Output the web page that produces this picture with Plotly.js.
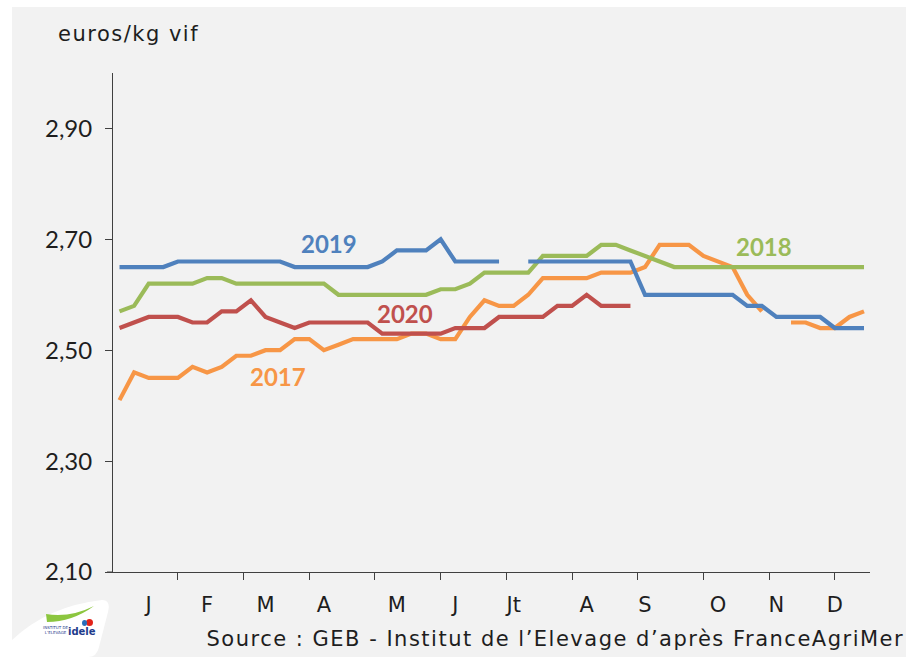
<!DOCTYPE html>
<html>
<head>
<meta charset="utf-8">
<script src="https://cdn.plot.ly/plotly-3.0.1.min.js"></script>
<style>
  html, body { margin: 0; padding: 0; background: #ffffff; width: 906px; height: 657px; overflow: hidden; }
  #chart { position: absolute; left: 12px; top: 7px; width: 894px; height: 650px; }
</style>
</head>
<body>
<div id="chart"></div>
<script>
// ---- data ----
const weeks = [1,2,3,4,5,6,7,8,9,10,11,12,13,14,15,16,17,18,19,20,21,22,23,24,25,26,
               27,28,29,30,31,32,33,34,35,36,37,38,39,40,41,42,43,44,45,46,47,48,49,50,51,52];

const y2017 = [2.41,2.46,2.45,2.45,2.45,2.47,2.46,2.47,2.49,2.49,
               2.50,2.50,2.52,2.52,2.50,2.51,2.52,2.52,2.52,2.52,
               2.53,2.53,2.52,2.52,2.56,2.59,2.58,2.58,2.60,2.63,
               2.63,2.63,2.63,2.64,2.64,2.64,2.65,2.69,2.69,2.69,
               2.67,2.66,2.65,2.60,2.57,null,2.55,2.55,2.54,2.54,2.56,2.57];

const y2018 = [2.57,2.58,2.62,2.62,2.62,2.62,2.63,2.63,2.62,2.62,
               2.62,2.62,2.62,2.62,2.62,2.60,2.60,2.60,2.60,2.60,
               2.60,2.60,2.61,2.61,2.62,2.64,2.64,2.64,2.64,2.67,
               2.67,2.67,2.67,2.69,2.69,2.68,2.67,2.66,2.65,2.65,
               2.65,2.65,2.65,2.65,2.65,2.65,2.65,2.65,2.65,2.65,2.65,2.65];

const y2019 = [2.65,2.65,2.65,2.65,2.66,2.66,2.66,2.66,2.66,2.66,
               2.66,2.66,2.65,2.65,2.65,2.65,2.65,2.65,2.66,2.68,
               2.68,2.68,2.70,2.66,2.66,2.66,2.66,null,2.66,2.66,
               2.66,2.66,2.66,2.66,2.66,2.66,2.60,2.60,2.60,2.60,
               2.60,2.60,2.60,2.58,2.58,2.56,2.56,2.56,2.56,2.54,2.54,2.54];

const y2020 = [2.54,2.55,2.56,2.56,2.56,2.55,2.55,2.57,2.57,2.59,
               2.56,2.55,2.54,2.55,2.55,2.55,2.55,2.55,2.53,2.53,
               2.53,2.53,2.53,2.54,2.54,2.54,2.56,2.56,2.56,2.56,
               2.58,2.58,2.60,2.58,2.58,2.58,null,null,null,null,
               null,null,null,null,null,null,null,null,null,null,null,null];

const seriesNames = ['2017','2018','2019','2020'];
const monthLabels = ['J','F','M','A','M','J','Jt','A','S','O','N','D'];
const monthWeeks  = [3,7,11,15,20,24,28,33,37,42,46,50];
const yTicks = [2.10,2.30,2.50,2.70,2.90];

// ---- styling ----
const colors = {'2017':'#F79646','2018':'#9BBB59','2019':'#4F81BD','2020':'#C0504D'};
const labelPos = {'2017':[11.83,2.4535],'2018':[45.15,2.687],'2019':[15.33,2.693],'2020':[20.54,2.567]};
const seriesData = {'2017':y2017,'2018':y2018,'2019':y2019,'2020':y2020};

const FONT = 'DejaVu Sans, sans-serif';
const NUMFONT = 'Lato, sans-serif';
const TXT = '#1e1e1e';

const traces = seriesNames.map(n => ({
  x: weeks, y: seriesData[n], type: 'scatter', mode: 'lines', name: n,
  line: {color: colors[n], width: 4.2}, connectgaps: false, hoverinfo: 'skip'
}));

// plot-area pixel helpers (page px -> paper coords)
const PL = 113, PR = 870, PT = 73, PB = 572;
const px = v => (v - PL) / (PR - PL);
const py = v => (PB - v) / (PB - PT);

const annotations = seriesNames.map(n => ({
  x: labelPos[n][0], y: labelPos[n][1], xref: 'x', yref: 'y', text: '<b>' + n + '</b>',
  showarrow: false, font: {family: NUMFONT, size: 24, color: colors[n]}, xanchor: 'center', yanchor: 'middle'
}));
annotations.push({x: px(128.5), y: py(34), xref: 'paper', yref: 'paper', text: 'euros/kg vif',
  showarrow: false, xanchor: 'center', yanchor: 'middle', font: {family: FONT, size: 21, color: TXT}});
annotations.push({x: px(555), y: py(639), xref: 'paper', yref: 'paper',
  text: 'Source : GEB - Institut de l\u2019Elevage d\u2019apr\u00e8s FranceAgriMer',
  showarrow: false, xanchor: 'center', yanchor: 'middle', font: {family: FONT, size: 21, color: TXT}});
// logo text
annotations.push({x: px(82), y: py(631), xref: 'paper', yref: 'paper', text: '<b>idele</b>',
  showarrow: false, xanchor: 'center', yanchor: 'middle', font: {family: FONT, size: 10, color: '#1f3c8c'}});
annotations.push({x: px(56), y: py(630), xref: 'paper', yref: 'paper', text: 'INSTITUT DE<br>L\u2019ELEVAGE',
  showarrow: false, xanchor: 'center', yanchor: 'middle', font: {family: FONT, size: 4, color: '#1f3c8c'}});

const shapes = [
  {type: 'line', xref: 'paper', yref: 'paper', x0: px(107), x1: px(113), y0: 0, y1: 0,
   line: {color: '#404040', width: 1}},
  {type: 'path', xref: 'paper', yref: 'paper', fillcolor: '#ffffff', line: {width: 0},
   path: 'M ' + px(12) + ',' + py(640) +
         ' Q ' + px(48) + ',' + py(606) + ' ' + px(102) + ',' + py(600) +
         ' Q ' + px(111) + ',' + py(600) + ' ' + px(108) + ',' + py(612) +
         ' L ' + px(99) + ',' + py(647) +
         ' Q ' + px(97) + ',' + py(657) + ' ' + px(88) + ',' + py(657) +
         ' L ' + px(12) + ',' + py(657) + ' Z'},
  {type: 'path', xref: 'paper', yref: 'paper', fillcolor: '#8cc63f', line: {width: 0},
   path: 'M ' + px(46) + ',' + py(614) + ' Q ' + px(70) + ',' + py(618) + ' ' + px(94) + ',' + py(606) +
         ' Q ' + px(72) + ',' + py(622) + ' ' + px(47) + ',' + py(622) + ' Z'},
  {type: 'circle', xref: 'paper', yref: 'paper', x0: px(86), x1: px(93), y0: py(626), y1: py(619),
   fillcolor: '#e2231a', line: {width: 0}},
  {type: 'circle', xref: 'paper', yref: 'paper', x0: px(82), x1: px(87), y0: py(626), y1: py(620),
   fillcolor: '#2a6ebb', line: {width: 0}}
];

const layout = {
  width: 894, height: 650,
  margin: {l: PL - 12, r: 906 - PR, t: PT - 7, b: 657 - PB, pad: 0},
  paper_bgcolor: '#f2f2f2', plot_bgcolor: '#f2f2f2',
  showlegend: false,
  separators: ', ',
  xaxis: {
    range: [0.554, 52.41], showgrid: false, zeroline: false,
    showline: true, linecolor: '#404040', linewidth: 1,
    tickmode: 'array', tickvals: monthWeeks, ticktext: monthLabels, ticks: '',
    ticklabelstandoff: 14,
    tickfont: {family: FONT, size: 21, color: TXT},
    minor: {tickmode: 'linear', tick0: 0.5, dtick: 4.5, ticks: 'outside', ticklen: 7, tickcolor: '#404040', tickwidth: 1, showgrid: false},
    fixedrange: true
  },
  yaxis: {
    range: [2.10, 3.00], showgrid: false, zeroline: false,
    showline: true, linecolor: '#404040', linewidth: 1,
    tickmode: 'array', tickvals: yTicks, tickformat: '.2f',
    ticks: 'outside', ticklen: 7, tickcolor: '#404040', tickwidth: 1,
    ticklabelstandoff: 8,
    tickfont: {family: NUMFONT, size: 24, color: TXT},
    fixedrange: true
  },
  annotations: annotations,
  shapes: shapes
};

Plotly.newPlot('chart', traces, layout, {displayModeBar: false, staticPlot: true}).then(gd => {
  gd.querySelectorAll('.annotation-text').forEach(t => {
    const s = t.textContent;
    if (s.indexOf('Source') === 0 || s.indexOf('euros') === 0) t.style.letterSpacing = '1.5px';
  });
});
</script>
</body>
</html>
